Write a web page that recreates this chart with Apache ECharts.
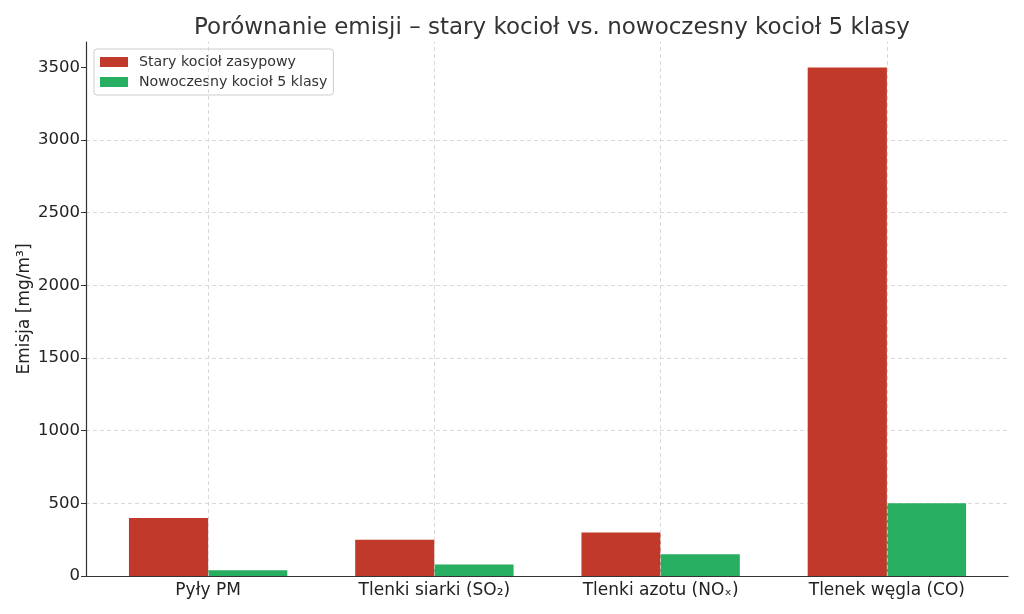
<!DOCTYPE html>
<html>
<head>
<meta charset="utf-8">
<script src="https://cdn.jsdelivr.net/npm/echarts@6/dist/echarts.min.js"></script>
<style>html,body{margin:0;padding:0;background:#fff}#c{width:1024px;height:614px}</style>
</head>
<body>
<div id="c"></div>
<script>
const categories = ['Pyły PM', 'Tlenki siarki (SO₂)', 'Tlenki azotu (NOₓ)', 'Tlenek węgla (CO)'];
const oldBoiler = [400, 250, 300, 3500];
const newBoiler = [40, 80, 150, 500];
const seriesNames = ['Stary kocioł zasypowy', 'Nowoczesny kocioł 5 klasy'];
const yTicks = [0, 500, 1000, 1500, 2000, 2500, 3000, 3500];

const FONT = 'DejaVu Sans';
const chart = echarts.init(document.getElementById('c'), null, {renderer: 'canvas'});
const yMax = 3675;
chart.setOption({
  animation: false,
  textStyle: {fontFamily: FONT},
  title: {
    text: 'Porównanie emisji – stary kocioł vs. nowoczesny kocioł 5 klasy',
    left: 547, top: 12, textAlign: 'center',
    textStyle: {fontFamily: FONT, fontSize: 23, fontWeight: 'normal', color: '#333'}
  },
  legend: {
    data: seriesNames,
    orient: 'vertical', left: 94, top: 49,
    icon: 'rect',
    itemWidth: 28, itemHeight: 10, itemGap: 6,
    padding: [6, 6, 6, 6],
    borderColor: '#ccc', borderWidth: 1, borderRadius: 3,
    backgroundColor: 'rgba(255,255,255,0.8)',
    textStyle: {fontFamily: FONT, fontSize: 14.2, color: '#333', padding: [0, 0, 0, 6]}
  },
  grid: [
    {left: 86, right: 16, top: 42, bottom: 38},
    {left: 95, right: 24, top: 42, bottom: 38}
  ],
  xAxis: [
    {gridIndex: 0, type: 'value', min: 0, max: 1,
     axisLine: {show: true, onZero: false, lineStyle: {color: '#333', width: 1.2}},
     axisTick: {show: false}, axisLabel: {show: false}, splitLine: {show: false}},
    {gridIndex: 1, type: 'category', data: categories,
     axisLine: {show: false},
     axisTick: {show: true, alignWithLabel: true, inside: true, length: 4, lineStyle: {color: '#333'}},
     axisLabel: {fontFamily: FONT, fontSize: 17, color: '#222', margin: 6},
     splitLine: {show: false}}
  ],
  yAxis: [
    {gridIndex: 0, type: 'value', min: 0, max: yMax, interval: 500,
     name: 'Emisja [mg/m³]', nameLocation: 'middle', nameGap: 53, nameMoveOverlap: false,
     nameTextStyle: {fontFamily: FONT, fontSize: 17, color: '#222'},
     axisLine: {show: true, lineStyle: {color: '#333', width: 1.2}},
     axisTick: {show: true, length: 5, lineStyle: {color: '#333'},
       customValues: yTicks},
     axisLabel: {fontFamily: FONT, fontSize: 16.5, color: '#222', margin: 6,
       formatter: v => (yTicks.indexOf(v) >= 0 ? String(v) : '')},
     splitLine: {show: true, showMaxLine: false, showMinLine: false,
       lineStyle: {color: '#d0d0d0', type: [4, 3], width: 0.8}}},
    {gridIndex: 1, type: 'value', min: 0, max: yMax, interval: 500,
     axisLine: {show: false}, axisTick: {show: false}, axisLabel: {show: false}, splitLine: {show: false}}
  ],
  series: [
    {type: 'line', xAxisIndex: 1, yAxisIndex: 1, data: categories.map(() => '-'),
     silent: true, z: 1, symbol: 'none',
     markLine: {silent: true, symbol: 'none', label: {show: false},
       lineStyle: {color: '#d0d0d0', type: [4, 3], width: 0.8},
       data: categories.map(c => ({xAxis: c}))}},
    {name: seriesNames[0], type: 'bar', xAxisIndex: 1, yAxisIndex: 1, data: oldBoiler,
     barWidth: '35%', barGap: '0%', z: 3,
     itemStyle: {color: '#c0392b'}},
    {name: seriesNames[1], type: 'bar', xAxisIndex: 1, yAxisIndex: 1, data: newBoiler,
     barWidth: '35%', barGap: '0%', z: 3,
     itemStyle: {color: '#27ae60'}}
  ]
});
</script>
</body>
</html>
